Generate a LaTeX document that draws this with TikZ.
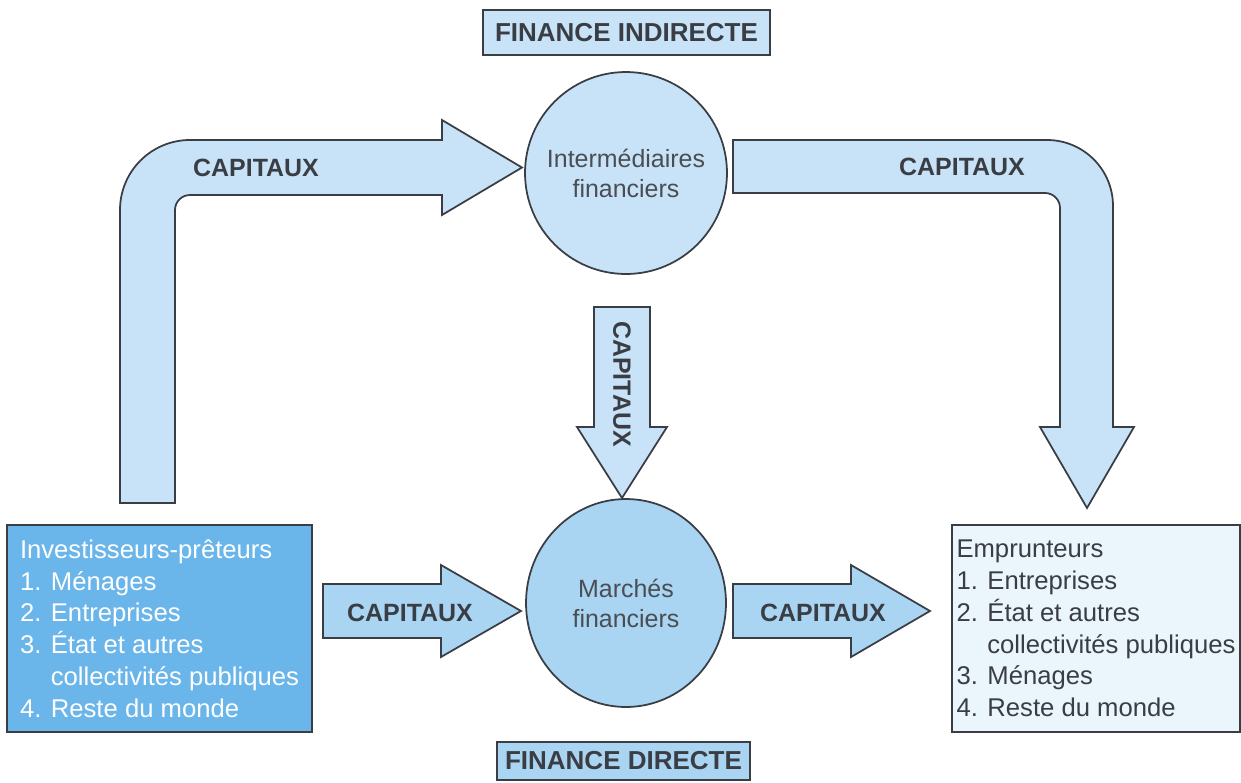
\documentclass[tikz,border=0pt]{standalone}
\usepackage{fontspec}
\setmainfont{Liberation Sans}
\usetikzlibrary{shapes.geometric}
\usepackage{xcolor}

\definecolor{linec}{HTML}{3A3E44}
\definecolor{upfill}{HTML}{C8E3F7}
\definecolor{downfill}{HTML}{A9D4F2}
\definecolor{lenderfill}{HTML}{6AB5E9}
\definecolor{borrowfill}{HTML}{EBF5FC}

\tikzset{
  capflow/.style={draw=linec, fill=upfill, line width=1pt, line join=miter},
  flowtext/.style={font=\fontsize{14.2}{17}\selectfont\bfseries, text=linec},
  financebox/.style={draw=linec, line width=1pt, inner sep=0pt, font=\fontsize{14.8}{17}\selectfont\bfseries, text=linec},
  agent/.style={draw=linec, line width=1pt, inner sep=0pt, align=center, font=\fontsize{14.2}{17}\selectfont, text=linec!92!white},
  listbox/.style={draw=linec, line width=1pt, inner sep=0pt, align=left, minimum height=4.14cm, font=\fontsize{14.6}{18.1}\selectfont}
}

\begin{document}
\begin{tikzpicture}[x=0.02cm, y=-0.02cm]
  \useasboundingbox (0,0) rectangle (1241,782);

  % finance indirecte
  \draw[capflow] (120,503) -- (120,210) .. controls (120,171.3) and (151.3,140) .. (190,140) -- (442,140) -- (442,120) -- (522,167.5) -- (442,215) -- (442,195) -- (190,195) .. controls (181.7,195) and (175,201.7) .. (175,210) -- (175,503) -- cycle;
  \draw[capflow] (733,140) -- (1047,140) .. controls (1083.5,140) and (1113,169.5) .. (1113,206) -- (1113,427) -- (1134,427) -- (1087,508) -- (1040,427) -- (1060,427) -- (1060,208) .. controls (1060,199.7) and (1053.3,193) .. (1045,193) -- (733,193) -- cycle;
  \draw[capflow] (594,307) -- (650,307) -- (650,427) -- (667,427) -- (622,498) -- (577,427) -- (594,427) -- cycle;

  % finance directe
  \draw[capflow, fill=downfill] (323,584) -- (441,584) -- (441,565) -- (521,611) -- (441,657) -- (441,638) -- (323,638) -- cycle;
  \draw[capflow, fill=downfill] (733,584) -- (851,584) -- (851,565) -- (930,611) -- (851,657) -- (851,638) -- (733,638) -- cycle;

  \node[flowtext] (capA) at (256,168) {CAPITAUX};
  \node[flowtext] (capB) at (962,167) {CAPITAUX};
  \node[flowtext, rotate=-90] (capC) at (622,384) {CAPITAUX};
  \node[flowtext] (capD) at (410,613) {CAPITAUX};
  \node[flowtext] (capE) at (823,613) {CAPITAUX};

  \node[financebox, fill=upfill, minimum width=5.74cm, minimum height=0.9cm] (indirecte) at (626.5,32.5) {FINANCE INDIRECTE};
  \node[financebox, fill=downfill, minimum width=5.06cm, minimum height=0.76cm] (directe) at (623.5,761) {FINANCE DIRECTE};

  \node[agent, circle, fill=upfill, minimum size=4.04cm] (inter) at (626,173) {Intermédiaires\\financiers};
  \node[agent, ellipse, fill=downfill, minimum width=4cm, minimum height=4.16cm] (marches) at (626,603) {Marchés\\financiers};

  \node[listbox, fill=lenderfill, text=white, minimum width=6.1cm] (preteurs) at (159.5,628.5) {Investisseurs-prêteurs\\1. Ménages\\2. Entreprises\\3. État et autres\\\phantom{3. }collectivités publiques\\4. Reste du monde};
  \node[listbox, fill=borrowfill, text=linec, minimum width=5.76cm] (emprunteurs) at (1096,628.5) {Emprunteurs\\1. Entreprises\\2. État et autres\\\phantom{2. }collectivités publiques\\3. Ménages\\4. Reste du monde};
\end{tikzpicture}
\end{document}
